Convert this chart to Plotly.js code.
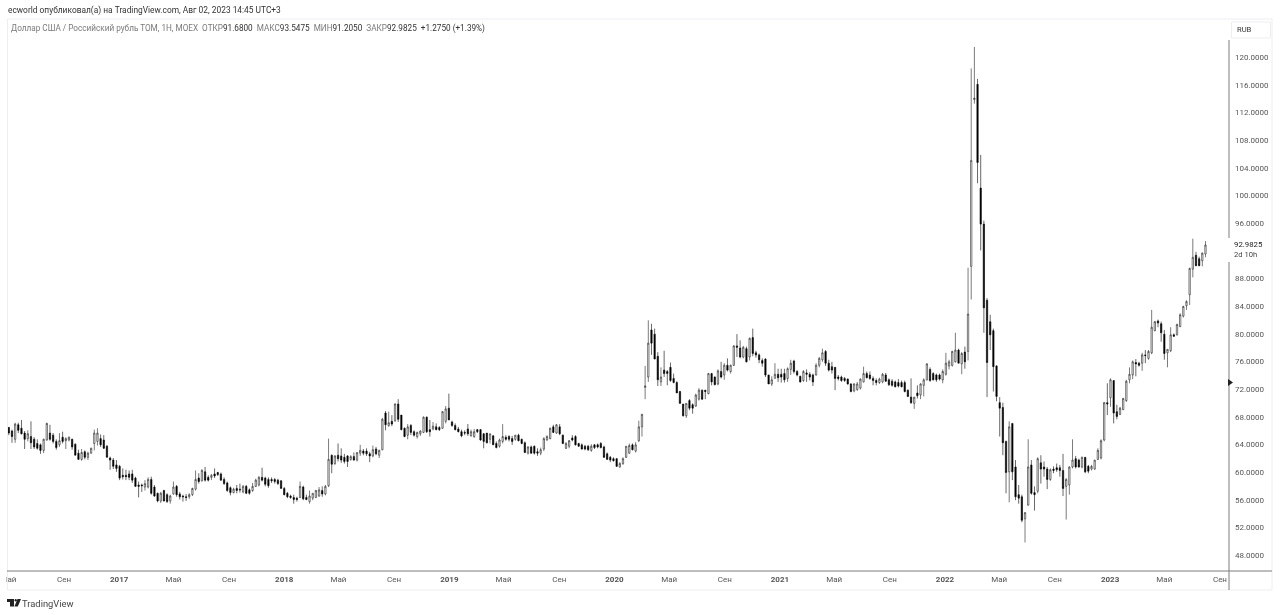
<!DOCTYPE html>
<html>
<head>
<meta charset="utf-8">
<script src="https://cdn.plot.ly/plotly-3.0.1.min.js"></script>
<style>html,body{margin:0;padding:0;background:#fff}#chart{width:1280px;height:615px;filter:blur(0.35px)}</style>
</head>
<body>
<div id="chart"></div>
<script>
var firstWeek = '2016-05-02';
var opens = [
66.6,66.1,64.9,67.0,66.5,65.8,65.0,65.3,64.9,64.3,
64.1,63.3,64.8,65.8,65.5,64.6,64.1,65.2,64.7,64.8,
64.9,64.2,62.9,62.0,63.1,62.3,62.9,64.3,64.6,65.0,
64.8,63.9,62.2,61.9,61.2,61.0,59.7,59.7,59.9,59.9,
59.3,58.3,58.3,58.0,58.0,59.1,58.0,57.1,56.0,57.5,
56.9,56.0,57.0,58.1,57.0,56.7,56.6,56.6,56.9,57.7,
59.3,58.9,60.2,59.4,59.4,59.9,60.1,59.9,59.1,58.6,
57.9,57.2,57.8,57.7,57.3,58.1,57.6,57.5,58.1,58.3,
59.4,59.3,59.1,59.1,59.1,59.0,58.9,57.8,57.1,56.7,
56.5,56.4,56.5,58.0,56.5,55.9,56.4,56.5,56.7,57.5,
57.0,58.2,62.6,61.4,62.6,62.5,62.3,62.5,62.0,62.4,
61.9,62.9,63.2,63.2,62.8,62.5,63.5,62.6,63.4,68.7,
66.9,67.5,67.6,70.0,68.4,66.5,65.5,66.9,66.0,65.3,
65.7,65.9,68.1,66.3,66.4,66.7,66.6,66.5,67.5,69.4,
67.4,66.9,66.4,66.0,65.9,66.4,65.4,65.3,66.3,66.3,
65.7,65.8,64.9,65.4,64.3,63.9,64.6,65.2,65.3,65.0,
64.9,65.5,64.9,64.4,62.9,63.8,63.9,63.1,62.9,63.5,
64.8,65.0,66.7,65.8,66.7,65.5,63.6,63.9,65.1,65.3,
64.3,64.1,63.9,63.9,63.3,64.1,64.1,64.3,63.8,62.8,
62.3,62.1,62.1,60.9,61.4,62.3,62.9,64.1,63.2,64.7,
66.7,72.4,73.9,80.7,80.1,76.9,73.2,74.9,74.7,75.3,
73.7,73.1,71.8,70.0,68.3,70.5,69.9,69.7,70.7,72.0,
72.0,71.5,74.4,73.9,72.9,74.7,74.2,75.6,74.7,75.6,
78.4,78.1,76.8,78.0,76.8,79.6,77.4,77.1,76.3,76.5,
74.2,72.9,73.7,74.3,74.3,74.4,73.7,75.0,76.2,74.7,
74.0,73.4,74.5,74.3,74.2,74.2,75.6,76.4,77.6,75.9,
75.4,75.3,73.9,73.9,73.7,73.6,72.9,71.9,72.1,72.3,
73.2,74.4,74.2,73.7,73.4,73.1,73.2,74.2,73.5,73.3,
73.2,73.1,73.1,73.1,72.0,71.0,70.1,71.6,71.3,72.7,
73.5,75.0,74.4,74.2,74.2,73.5,74.3,75.5,75.6,76.1,
77.8,75.8,77.5,77.6,89.9,114.0,116.2,101.2,96.0,85.0,
81.9,80.6,75.5,70.2,69.5,64.6,60.2,67.2,60.9,56.9,
56.6,53.4,55.4,61.2,57.2,57.4,61.5,60.9,60.6,59.1,
60.6,60.8,60.8,60.4,58.1,58.3,60.9,62.1,61.9,60.9,
62.3,61.0,60.6,60.6,62.0,62.2,64.8,70.2,70.9,73.4,
68.9,68.5,69.2,70.5,73.5,74.2,76.0,75.9,75.9,77.1,
76.6,77.4,80.6,82.0,81.6,80.1,77.4,77.7,80.0,80.0,
81.2,82.7,84.2,85.8,89.5,91.5,91.0,90.7,91.68];
var highs = [
66.7,66.3,67.3,67.3,67.7,66.1,66.2,67.5,65.2,64.9,
64.3,65.0,67.3,67.0,65.8,64.9,65.8,66.0,65.2,65.3,
65.0,64.3,63.4,63.5,63.3,63.1,63.7,66.3,66.5,65.6,
65.5,64.1,62.4,62.2,61.9,61.2,60.7,60.5,60.4,60.5,
59.5,58.8,58.5,59.0,59.4,59.5,58.3,57.2,57.3,57.6,
57.1,56.9,58.8,58.3,57.3,56.9,57.0,57.1,57.9,60.4,
60.0,60.6,60.9,59.7,59.9,60.7,60.2,60.1,59.4,58.8,
58.1,57.9,58.3,58.5,58.3,58.3,57.8,58.6,59.2,59.6,
60.8,59.5,59.4,59.4,59.3,59.2,59.0,58.0,57.3,56.9,
56.9,56.6,58.8,58.2,56.9,57.5,57.1,57.6,58.0,58.1,
58.3,65.0,62.7,62.6,64.3,63.6,62.8,62.6,62.6,63.0,
63.0,64.1,63.5,63.6,63.1,64.0,63.8,63.4,68.0,69.0,
68.9,68.4,70.1,70.7,68.4,66.6,67.1,67.1,66.2,66.0,
66.2,68.2,68.2,67.7,67.4,67.2,66.8,69.0,69.7,71.5,
67.6,67.2,66.7,66.3,66.2,67.1,66.3,66.4,66.4,66.4,
65.8,65.8,65.7,65.5,64.6,65.0,67.1,65.5,65.5,65.4,
65.5,65.7,65.0,64.6,63.9,64.0,64.0,63.6,63.7,65.2,
65.5,66.6,67.0,67.1,67.1,65.6,64.5,64.8,65.5,65.5,
64.4,64.3,64.1,64.1,64.2,64.2,64.3,64.5,64.0,63.0,
62.5,62.3,62.2,61.6,62.3,63.9,64.3,64.3,64.5,67.6,
68.6,75.5,82.1,81.6,80.9,77.5,75.3,77.7,74.9,76.0,
74.4,73.3,71.9,70.0,70.1,70.7,70.1,71.5,72.3,72.1,
72.0,74.5,74.5,74.0,75.0,76.1,75.9,76.6,75.7,78.5,
80.1,79.2,78.4,78.3,79.6,80.9,77.7,77.3,76.6,76.6,
74.2,74.0,75.9,75.1,75.1,75.1,75.3,76.4,76.4,74.9,
74.1,74.9,75.0,74.6,74.4,75.9,76.8,78.0,77.8,76.4,
76.1,75.3,74.2,74.1,73.9,73.7,73.0,73.0,73.2,73.7,
75.4,74.7,74.7,74.0,73.7,73.8,74.5,74.5,73.7,73.6,
73.4,73.6,73.4,73.4,72.1,73.7,71.0,72.7,73.0,73.7,
75.9,75.3,74.6,74.4,74.4,75.0,77.4,76.4,77.7,80.3,
78.0,77.5,78.3,89.7,118.5,121.6,117.0,106.0,96.5,85.3,
82.9,80.9,75.6,71.0,70.2,64.7,67.5,67.2,61.9,58.3,
56.9,54.4,64.9,61.9,58.1,62.3,62.6,61.7,60.9,60.7,
61.0,61.4,61.2,62.8,59.3,61.0,64.9,62.5,62.1,62.4,
62.3,61.2,61.2,61.9,63.6,64.9,70.3,73.0,73.7,73.4,
69.9,69.6,70.9,73.5,75.3,76.3,76.5,76.1,77.4,77.8,
77.8,83.6,82.0,82.2,81.9,80.7,77.9,81.1,80.2,81.6,
83.1,84.2,85.0,89.7,93.9,92.0,91.3,91.9,93.5475];
var lows = [
65.5,64.4,64.4,65.8,65.6,63.5,64.6,63.5,63.5,63.4,
62.8,62.9,64.7,64.7,64.3,63.4,63.8,64.3,63.5,64.6,
63.4,62.6,62.0,61.8,62.0,61.9,62.8,63.3,64.0,63.8,
63.5,62.3,60.5,60.6,60.2,59.0,59.1,59.0,59.0,58.6,
58.0,56.5,57.3,57.5,57.8,56.9,56.6,55.8,55.7,55.9,
55.7,55.6,56.9,56.6,56.2,55.9,56.0,56.3,56.7,57.5,
58.5,58.8,58.8,58.8,59.0,59.3,59.6,58.9,58.3,57.3,
56.8,57.1,57.1,57.2,57.1,57.0,56.9,57.3,58.0,58.1,
58.8,58.1,57.9,58.6,58.5,58.3,57.8,56.8,56.4,56.3,
55.6,55.9,56.4,56.1,56.1,55.6,56.1,56.4,56.6,56.6,
56.8,58.0,60.0,61.2,61.7,61.5,61.4,60.9,61.8,61.8,
61.7,62.5,62.6,62.5,61.6,62.3,62.6,62.2,63.3,66.2,
66.7,66.8,67.4,67.4,66.2,65.2,64.9,65.5,65.3,65.0,
65.4,65.8,65.8,65.3,66.2,66.2,66.1,66.4,67.2,67.7,
66.7,66.2,65.9,65.2,65.5,65.4,65.3,65.1,65.8,64.7,
63.6,64.3,64.3,64.1,63.6,63.7,64.3,64.7,64.6,64.1,
64.7,64.6,64.2,62.9,62.7,62.8,62.7,62.5,62.6,63.2,
64.7,64.9,65.8,65.7,65.5,64.2,63.5,63.6,64.6,64.0,
63.8,63.4,63.3,63.2,63.1,63.5,63.6,63.6,62.2,62.0,
61.6,61.7,60.9,60.8,61.2,62.2,62.8,63.3,63.0,64.5,
65.3,70.7,73.2,77.1,76.5,72.6,72.6,73.9,72.7,73.2,
73.0,71.6,70.0,68.2,68.0,69.1,68.6,69.6,70.5,70.6,
70.7,71.4,72.7,72.7,72.7,73.7,73.5,74.7,74.4,75.5,
76.8,76.6,76.6,76.0,76.3,76.9,76.7,75.9,75.4,73.9,
72.9,72.6,73.7,73.2,73.1,73.1,73.2,74.2,74.4,74.0,
73.1,73.2,73.2,73.4,72.6,74.1,75.3,76.1,75.5,74.7,
74.4,72.0,73.4,73.2,73.2,72.8,71.7,71.7,71.9,72.1,
73.1,73.7,73.5,72.7,72.7,72.9,73.0,73.2,72.6,72.5,
72.4,72.4,72.4,71.7,71.0,70.0,69.3,70.8,70.7,71.1,
73.4,73.2,73.4,73.2,73.4,73.0,74.1,75.0,75.4,76.0,
75.9,74.3,75.1,76.3,85.1,113.4,101.9,92.2,80.3,71.0,
77.8,71.8,70.4,65.3,62.6,57.1,55.8,59.0,56.1,55.6,
52.9,50.0,55.3,56.9,54.6,57.1,58.5,59.5,57.7,58.9,
60.0,60.2,59.5,56.7,53.3,56.9,60.7,60.7,60.8,60.7,
60.0,60.0,60.4,60.5,61.9,62.0,64.6,68.4,69.6,67.2,
67.8,68.4,69.1,70.3,73.0,73.6,74.0,75.4,74.8,75.9,
76.4,77.2,80.5,81.1,79.0,76.4,75.3,77.5,79.7,79.9,
81.1,82.5,83.6,84.3,88.3,89.9,89.9,89.9,91.205];
var closes = [
65.8,65.3,67.1,66.2,65.7,64.9,65.7,64.4,63.8,63.6,
63.3,64.9,67.2,64.9,64.6,63.7,64.7,64.6,65.0,65.2,
63.8,62.6,62.0,63.0,62.3,62.9,63.6,65.8,65.8,64.1,
63.6,62.3,61.9,61.0,60.7,59.3,59.5,59.5,59.4,59.0,
58.1,58.1,58.2,58.5,59.1,57.1,56.7,56.0,57.1,56.0,
55.9,56.7,58.0,56.9,56.6,56.6,56.5,56.9,57.8,59.1,
58.8,60.4,59.0,59.0,59.7,59.6,59.8,59.0,58.5,57.5,
57.2,57.7,57.5,57.6,58.1,57.1,57.1,58.1,59.0,59.4,
59.0,58.4,58.2,58.9,58.8,58.5,57.8,56.9,56.6,56.5,
56.2,56.2,58.1,56.3,56.2,56.7,57.1,57.5,57.6,57.0,
58.1,62.0,61.3,62.5,62.1,61.9,61.7,61.7,62.4,61.9,
63.0,63.3,62.9,62.8,62.5,63.4,62.8,63.3,67.8,67.0,
67.3,67.1,70.0,67.8,66.3,65.3,66.7,65.9,65.5,65.9,
66.1,68.1,66.0,66.0,66.8,66.3,66.3,68.9,69.3,67.7,
66.9,66.3,66.0,65.4,65.8,65.7,66.0,66.0,66.0,64.8,
64.6,64.4,65.7,64.1,63.7,64.8,65.3,64.9,64.9,64.6,
65.5,64.7,64.3,63.0,63.8,62.9,62.9,62.9,63.4,65.0,
65.3,66.5,65.9,67.0,65.7,64.3,64.3,64.7,64.8,64.1,
63.9,63.5,63.5,63.4,63.9,63.7,63.8,63.7,62.3,62.0,
61.9,61.8,61.0,61.4,62.1,63.9,64.0,63.4,64.1,66.7,
68.5,72.6,78.8,78.8,76.5,73.5,73.9,74.4,74.4,73.4,
73.1,71.6,70.1,68.3,70.1,69.4,69.4,71.3,72.0,70.7,
71.8,74.4,73.2,72.8,74.8,73.9,75.6,74.9,75.6,78.4,
78.2,76.8,78.2,76.1,79.5,77.3,77.1,76.4,75.9,74.2,
72.9,73.5,74.3,73.8,73.9,73.5,75.1,75.9,74.7,74.2,
73.2,74.7,74.3,73.9,73.2,75.6,76.6,77.4,75.9,74.9,
74.9,73.7,73.7,73.4,73.4,72.9,71.8,72.9,72.9,73.6,
74.4,73.8,73.7,73.4,73.1,73.6,74.3,73.3,72.8,72.7,
72.5,72.6,72.5,71.8,71.1,70.2,71.0,71.2,72.9,73.5,
75.8,73.4,73.5,73.5,73.6,74.7,75.9,76.1,77.6,77.8,
75.9,77.3,76.1,83.0,105.2,114.2,104.9,96.0,83.9,76.0,
80.0,75.4,71.1,69.4,64.4,60.1,66.7,60.2,56.6,56.4,
53.2,54.3,60.9,57.1,56.9,62.1,60.6,60.6,59.1,60.5,
60.4,60.5,60.4,57.8,59.1,60.9,61.9,60.9,60.9,62.3,
60.2,60.3,61.0,61.9,63.3,64.7,70.2,70.0,73.5,68.7,
68.2,69.4,70.8,73.3,74.3,76.1,75.8,75.6,77.1,77.0,
77.6,81.1,81.9,81.7,80.3,77.3,77.9,80.0,79.8,81.5,
82.9,84.1,84.8,89.6,91.2,90.0,90.0,91.8,92.9825];

var priceTicks = [48,52,56,60,64,68,72,76,80,84,88,96,100,104,108,112,116,120];
var timeTicks = ['2016-05-01','2016-09-01','2017-01-01','2017-05-01','2017-09-01','2018-01-01','2018-05-01','2018-09-01','2019-01-01','2019-05-01','2019-09-01','2020-01-01','2020-05-01','2020-09-01','2021-01-01','2021-05-01','2021-09-01','2022-01-01','2022-05-01','2022-09-01','2023-01-01','2023-05-01','2023-09-01'];
var timeLabels = ['Май','Сен','<b>2017</b>','Май','Сен','<b>2018</b>','Май','Сен','<b>2019</b>','Май','Сен','<b>2020</b>','Май','Сен','<b>2021</b>','Май','Сен','<b>2022</b>','Май','Сен','<b>2023</b>','Май','Сен'];

var dates = opens.map(function (_, i) {
  var d = new Date(firstWeek + 'T00:00:00Z');
  d.setUTCDate(d.getUTCDate() + 7 * i);
  return d.toISOString().slice(0, 10);
});

var L = 7, R = 1229, T = 19, B = 571;
function px(x) { return (x - L) / (R - L); }
function py(y) { return 1 - (y - T) / (B - T); }
function poly(pts) {
  return 'M' + pts.map(function (p) { return px(p[0]) + ',' + py(p[1]); }).join('L') + 'Z';
}
function paperRect(x0, y0, x1, y1, fill, line) {
  return {type:'rect', xref:'paper', yref:'paper', x0:px(x0), x1:px(x1), y0:py(y0), y1:py(y1),
          fillcolor:fill, line:{color:line || fill, width:line ? 1 : 0}, layer:'above'};
}
function paperLine(x0, y0, x1, y1, color) {
  return {type:'line', xref:'paper', yref:'paper', x0:px(x0), x1:px(x1), y0:py(y0), y1:py(y1),
          line:{color:color, width:1}, layer:'above'};
}
function shapePath(pts, fill) {
  return {type:'path', xref:'paper', yref:'paper', path:poly(pts), fillcolor:fill, line:{width:0}, layer:'above'};
}
function note(x, y, text, size, color, anchor) {
  return {xref:'paper', yref:'paper', x:px(x), y:py(y), text:text, showarrow:false,
          xanchor:anchor || 'left', yanchor:'middle', align:'left',
          font:{family:'Roboto, sans-serif', size:size, color:color}};
}

var G = '#7a7a7a', D = '#333333';
function dim(t) { return '<span style="color:' + G + '">' + t + '</span>'; }
var legendText = dim('Доллар США / Российский рубль ТОМ, 1Н, MOEX&nbsp;&nbsp;ОТКР') + '91.6800' +
  dim('&nbsp;&nbsp;МАКС') + '93.5475' + dim('&nbsp;&nbsp;МИН') + '91.2050' + dim('&nbsp;&nbsp;ЗАКР') +
  '92.9825&nbsp;&nbsp;+1.2750 (+1.39%)';

var shapes = [
  paperRect(0, 571.5, 6.5, 590, '#ffffff'),
  paperLine(7.5, 19, 1272, 19, '#eeeef2'),
  paperLine(7.5, 19, 7.5, 590, '#eeeef2'),
  paperLine(7.5, 590, 1272, 590, '#eeeef2'),
  paperLine(1272, 19, 1272, 590, '#eeeef2'),
  paperLine(7, 571, 1272, 571, '#7d7d7d'),
  paperLine(1229, 40, 1229, 238, '#7d7d7d'),
  paperLine(1229, 262, 1229, 590, '#7d7d7d'),
  paperRect(1231.5, 22, 1270.5, 38, '#ffffff', '#eeeef2'),
  shapePath([[1228,379],[1233,382.5],[1228,386]], '#222222'),
  shapePath([[7,599],[14,599],[14,606.5],[10,606.5],[10,602],[7,602]], '#222222'),
  {type:'circle', xref:'paper', yref:'paper', x0:px(14.6), x1:px(16.8), y0:py(599), y1:py(601.4), fillcolor:'#222222', line:{width:0}, layer:'above'},
  shapePath([[17.5,599],[21,599],[17.8,606.5],[14.4,606.5]], '#222222')
];

var annotations = [
  note(6, 10, 'ecworld опубликовал(а) на TradingView.com, Авг 02, 2023 14:45 UTC+3', 8.4, '#333333'),
  note(9, 29, legendText, 8.2, D),
  note(1235, 30, 'RUB', 7.6, '#333333'),
  note(1232, 244.5, '92.9825', 7.8, '#222222'),
  note(1232, 254, '2d 10h', 7.6, '#444444'),
  note(20, 603, 'TradingView', 9.4, '#444444')
];

var trace = {
  type:'candlestick', x:dates, open:opens, high:highs, low:lows, close:closes,
  whiskerwidth:0,
  increasing:{line:{color:'#222222', width:0.6}, fillcolor:'#ffffff'},
  decreasing:{line:{color:'#000000', width:0.6}, fillcolor:'#000000'},
  hoverinfo:'skip', showlegend:false
};

var layout = {
  width:1280, height:615, showlegend:false, paper_bgcolor:'#ffffff', plot_bgcolor:'#ffffff',
  margin:{l:L, r:1280-R, t:T, b:615-B, pad:0},
  boxgap:0.4,
  xaxis:{type:'date', range:['2016-04-28','2023-09-21'], rangeslider:{visible:false}, showgrid:false, zeroline:false, showline:false,
         tickmode:'array', tickvals:timeTicks, ticktext:timeLabels, ticks:'', ticklabelstandoff:2,
         tickfont:{family:'Roboto, sans-serif', size:8, color:'#555555'}},
  yaxis:{side:'right', range:[45.87,125.64], showgrid:false, zeroline:false, showline:false, fixedrange:true,
         tickmode:'array', tickvals:priceTicks, ticktext:priceTicks.map(function (v) { return v.toFixed(4); }),
         ticks:'', ticklabelstandoff:5, tickfont:{family:'Roboto, sans-serif', size:8, color:'#555555'}},
  shapes:shapes, annotations:annotations
};

Plotly.newPlot('chart', [trace], layout, {displayModeBar:false, staticPlot:true}).then(function () {
  document.querySelectorAll('.ytick text').forEach(function (t) {
    t.setAttribute('dy', '-1');
  });
});
</script>
</body>
</html>
